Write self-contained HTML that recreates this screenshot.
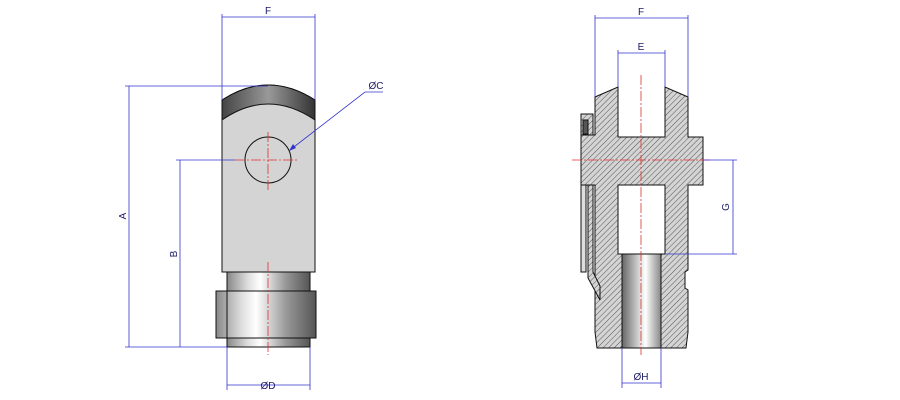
<!DOCTYPE html>
<html><head><meta charset="utf-8"><style>
html,body{margin:0;padding:0;background:#fff;width:900px;height:400px;overflow:hidden}
text{font-family:"Liberation Sans",sans-serif;font-size:10px;fill:#1a1a66}
</style></head><body>
<svg width="900" height="400" viewBox="0 0 900 400" xmlns="http://www.w3.org/2000/svg">
<defs>
<pattern id="h" width="4" height="4" patternUnits="userSpaceOnUse" patternTransform="rotate(45)">
<rect width="4" height="4" fill="#d4d4d4"/><line x1="0" y1="0" x2="0" y2="4" stroke="#444" stroke-width="0.9"/>
</pattern>
<linearGradient id="cyl" x1="0" x2="1" y1="0" y2="0">
<stop offset="0" stop-color="#888"/><stop offset="0.25" stop-color="#ddd"/><stop offset="0.4" stop-color="#fff"/><stop offset="0.7" stop-color="#999"/><stop offset="1" stop-color="#555"/>
</linearGradient>
<linearGradient id="bore" x1="0" x2="1"><stop offset="0" stop-color="#666"/><stop offset="0.6" stop-color="#fff"/><stop offset="1" stop-color="#888"/></linearGradient>
<linearGradient id="arc" x1="0" x2="1"><stop offset="0" stop-color="#444"/><stop offset="0.5" stop-color="#999"/><stop offset="1" stop-color="#333"/></linearGradient>
</defs>
<!-- left view -->
<g stroke="#111" stroke-width="1">
<path d="M222,100 Q268,70 315,100 L315,272 L222,272 Z" fill="#d4d4d4"/>
<path d="M222,100 Q268,70 315,100 L315,120 Q268,88 222,120 Z" fill="url(#arc)"/>
<circle cx="268" cy="160" r="23" fill="#d4d4d4"/>
<rect x="227" y="272" width="83" height="19" fill="url(#cyl)"/>
<rect x="216" y="291" width="100" height="47" fill="url(#cyl)"/>
<line x1="227" y1="291" x2="227" y2="338"/>
<rect x="227" y="338" width="83" height="9" fill="url(#cyl)"/>
</g>
<g stroke="#e03030" stroke-width="0.8" stroke-dasharray="10,2,2,2" fill="none">
<line x1="235" y1="160" x2="297" y2="160"/><line x1="268" y1="132" x2="268" y2="190"/>
<line x1="268" y1="262" x2="268" y2="355"/>
</g>
<!-- right view -->
<g stroke="#111" stroke-width="1">
<path d="M595,97 L618,87 L618,137 L665,137 L665,87 L688,97 L688,137 L703,137 L703,185 L688,185 L688,270 L685,272 L685,288 L688,290 L688,332 L686,348 L597,348 L595,332 L595,185 L581,185 L581,135 L595,135 Z" fill="url(#h)"/>
<rect x="618" y="185" width="47" height="69" fill="#fff"/>
<rect x="622" y="254" width="39" height="94" fill="url(#bore)"/>
<rect x="581" y="114" width="12" height="21" fill="url(#h)"/>
<rect x="583" y="120" width="5" height="14" fill="#555"/>
<rect x="581" y="185" width="5" height="87" fill="#ddd"/>
<path d="M588,185 L593,185 L593,272 L600,286 L600,300 L588,278 Z" fill="url(#h)"/>
</g>
<g stroke="#e03030" stroke-width="0.8" stroke-dasharray="10,2,2,2" fill="none">
<line x1="641" y1="75" x2="641" y2="355"/>
<line x1="572" y1="160" x2="712" y2="160"/>
</g>
<g stroke="#3333cc" stroke-width="0.8" fill="none">
<line x1="222" y1="14" x2="222" y2="100"/><line x1="315" y1="14" x2="315" y2="100"/>
<line x1="222" y1="17" x2="315" y2="17"/>
<line x1="125" y1="86" x2="268" y2="86"/><line x1="125" y1="347" x2="227" y2="347"/>
<line x1="129" y1="86" x2="129" y2="347"/>
<line x1="176" y1="160" x2="235" y2="160"/><line x1="180" y1="160" x2="180" y2="347"/>
<polyline points="290,150 365,92 383,92"/>
<line x1="227" y1="347" x2="227" y2="390"/><line x1="310" y1="347" x2="310" y2="390"/>
<line x1="227" y1="385" x2="310" y2="385"/>
<line x1="595" y1="15" x2="595" y2="97"/><line x1="688" y1="15" x2="688" y2="97"/>
<line x1="595" y1="18" x2="688" y2="18"/>
<line x1="618" y1="50" x2="618" y2="87"/><line x1="665" y1="50" x2="665" y2="87"/>
<line x1="618" y1="53" x2="665" y2="53"/>
<line x1="703" y1="160" x2="737" y2="160"/><line x1="665" y1="254" x2="737" y2="254"/>
<line x1="733" y1="160" x2="733" y2="254"/>
<line x1="622" y1="348" x2="622" y2="388"/><line x1="661" y1="348" x2="661" y2="388"/>
<line x1="622" y1="383" x2="661" y2="383"/>
</g>
<path d="M289,151 L293,144 L296,148 Z" fill="#3333cc"/>
<g>
<text x="268" y="14" text-anchor="middle">F</text>
<text x="376" y="89" text-anchor="middle">ØC</text>
<text x="268" y="389" text-anchor="middle">ØD</text>
<text x="126" y="216" text-anchor="middle" transform="rotate(-90 126 216)">A</text>
<text x="177" y="254" text-anchor="middle" transform="rotate(-90 177 254)">B</text>
<text x="641" y="15" text-anchor="middle">F</text>
<text x="641" y="50" text-anchor="middle">E</text>
<text x="729" y="207" text-anchor="middle" transform="rotate(-90 729 207)">G</text>
<text x="641" y="380" text-anchor="middle">ØH</text>
</g>
</svg>
</body></html>
